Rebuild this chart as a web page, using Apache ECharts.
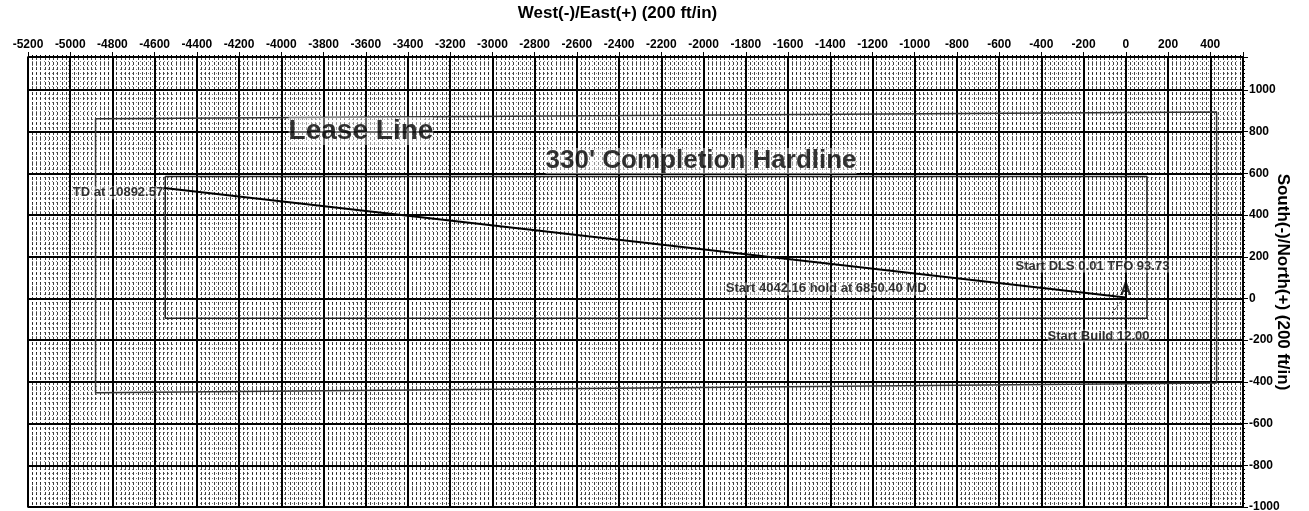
<!DOCTYPE html>
<html>
<head>
<meta charset="utf-8">
<script src="https://cdn.jsdelivr.net/npm/echarts@6/dist/echarts.min.js"></script>
<style>
    html, body { margin: 0; padding: 0; background: #fff; }
    #myChart { width: 1309px; height: 511px; }
</style>
</head>
<body>
<div id="myChart"></div>
<script>
    // plan view, ft. E-W on x, N-S on y
    var xTicks = [-5200, -5000, -4800, -4600, -4400, -4200, -4000, -3800, -3600, -3400, -3200, -3000, -2800,
        -2600, -2400, -2200, -2000, -1800, -1600, -1400, -1200, -1000, -800, -600, -400, -200, 0, 200, 400];
    var yTicks = [-1000, -800, -600, -400, -200, 0, 200, 400, 600, 800, 1000];
    var xEnd = 555;
    var yEnd = 1158;

    // well path (wellhead -> TD)
    var pathEW = [0, -4555];
    var pathNS = [5, 530];

    // lease line (slightly skewed on the plat)
    var leaseEW = [-4880, 430, 430, -4880, -4880];
    var leaseNS = [862, 894, -405, -452, 862];

    // 330' completion hardline
    var hardEW = [-4550, 100, 100, -4550, -4550];
    var hardNS = [585, 585, -95, -95, 585];

    // leader from 'Start Build' label to the wellhead
    var leaderEW = [-65, -18];
    var leaderNS = [-70, -7];

    // annotations: left-anchored, except the hold note which ends at its anchor
    var noteText = ['TD at 10892.57', 'Start DLS 0.01 TFO 93.73', 'Start Build 12.00'];
    var noteEW = [-4990, -525, -373];
    var noteNS = [507, 156, -180];

    var holdText = ['Start 4042.16 hold at 6850.40 MD'];
    var holdEW = [-941];
    var holdNS = [46];

    var bigText = ['Lease Line', "330' Completion Hardline"];
    var bigEW = [-3968, -2751];
    var bigNS = [803, 659];
    var bigSize = [28, 26];

    var wellheadEW = [0];
    var wellheadNS = [40];

    var font = 'Liberation Sans, Arial, sans-serif';

    function pairs(xs, ys) {
        var arr = [];
        xs.forEach(function (x, i) { arr.push([x, ys[i]]); });
        return arr;
    }
    function labelled(xs, ys, names) {
        var arr = [];
        xs.forEach(function (x, i) { arr.push({ name: names[i], value: [x, ys[i]] }); });
        return arr;
    }
    function plain(v) { return String(v); }

    var bigData = labelled(bigEW, bigNS, bigText);
    bigData.forEach(function (d, i) { d.label = { fontSize: bigSize[i] }; });

    // text sits on a lightly washed patch of the grid, like the plotted plat
    var wash = 'rgba(255,255,255,0.55)';

    var option = {
        animation: false,
        backgroundColor: '#fff',
        textStyle: { fontFamily: font, color: '#000' },
        grid: {
            show: true,
            left: 28, right: 66, top: 57, bottom: 4,
            containLabel: false,
            outerBoundsMode: 'none',
            borderColor: '#000',
            borderWidth: 1.5,
            backgroundColor: '#fff'
        },
        xAxis: {
            type: 'value',
            position: 'top',
            min: xTicks[0],
            max: xEnd,
            interval: xTicks[1] - xTicks[0],
            name: 'West(-)/East(+) (200 ft/in)',
            nameLocation: 'middle',
            nameGap: 35,
            nameMoveOverlap: false,
            nameTextStyle: {
                fontFamily: font, fontWeight: 'bold', fontSize: 17, color: '#000',
                padding: [0, 36, 0, 0]
            },
            axisLine: { show: true, onZero: false, lineStyle: { color: '#000', width: 1 } },
            axisTick: { show: true, length: 5, lineStyle: { color: '#000' } },
            minorTick: { show: true, splitNumber: 10, length: 2, lineStyle: { color: '#000' } },
            axisLabel: {
                fontFamily: font, fontWeight: 'bold', fontSize: 12, color: '#000', margin: 6,
                showMaxLabel: false, formatter: plain
            },
            splitLine: { show: true, lineStyle: { color: '#000', width: 2 } },
            minorSplitLine: { show: true, lineStyle: { color: '#000', opacity: 0.75, width: 1, type: [3, 2] } }
        },
        yAxis: {
            type: 'value',
            position: 'right',
            min: yTicks[0],
            max: yEnd,
            interval: yTicks[1] - yTicks[0],
            name: 'South(-)/North(+) (200 ft/in)',
            nameLocation: 'middle',
            nameRotate: -90,
            nameGap: 31,
            nameMoveOverlap: false,
            nameTextStyle: { fontFamily: font, fontWeight: 'bold', fontSize: 17, color: '#000' },
            axisLine: { show: true, onZero: false, lineStyle: { color: '#000', width: 1 } },
            axisTick: { show: true, length: 5, lineStyle: { color: '#000' } },
            minorTick: { show: true, splitNumber: 10, length: 2, lineStyle: { color: '#000' } },
            axisLabel: {
                fontFamily: font, fontWeight: 'bold', fontSize: 12, color: '#000', margin: 6,
                showMaxLabel: false, formatter: plain
            },
            splitLine: { show: true, lineStyle: { color: '#000', width: 2 } },
            minorSplitLine: { show: true, lineStyle: { color: '#000', opacity: 0.5, width: 1, type: [1, 3] } }
        },
        series: [{
            name: 'Lease Line',
            type: 'line',
            data: pairs(leaseEW, leaseNS),
            symbol: 'none',
            lineStyle: { color: '#333', width: 1.5 },
            silent: true
        }, {
            name: 'Hardline',
            type: 'line',
            data: pairs(hardEW, hardNS),
            symbol: 'none',
            lineStyle: { color: '#222', width: 1.5 },
            silent: true
        }, {
            name: 'Plan',
            type: 'line',
            data: pairs(pathEW, pathNS),
            symbol: 'none',
            lineStyle: { color: '#000', width: 2 },
            silent: true
        }, {
            name: 'Leader',
            type: 'line',
            data: pairs(leaderEW, leaderNS),
            symbol: 'none',
            lineStyle: { color: '#000', width: 1, type: [2, 2] },
            silent: true
        }, {
            name: 'Notes',
            type: 'scatter',
            z: 10,
            data: labelled(noteEW, noteNS, noteText),
            symbolSize: 1,
            itemStyle: { color: 'transparent' },
            label: {
                show: true, position: 'right', distance: 0,
                formatter: '{b}',
                fontFamily: font, fontWeight: 'bold', fontSize: 13, color: '#000',
                backgroundColor: wash
            },
            silent: true
        }, {
            name: 'Hold',
            type: 'scatter',
            z: 10,
            data: labelled(holdEW, holdNS, holdText),
            symbolSize: 1,
            itemStyle: { color: 'transparent' },
            label: {
                show: true, position: 'left', distance: 0,
                formatter: '{b}',
                fontFamily: font, fontWeight: 'bold', fontSize: 13, color: '#000',
                backgroundColor: wash
            },
            silent: true
        }, {
            name: 'Titles',
            type: 'scatter',
            z: 10,
            data: bigData,
            symbolSize: 1,
            itemStyle: { color: 'transparent' },
            label: {
                show: true, position: 'right', distance: 0,
                formatter: '{b}',
                fontFamily: font, fontWeight: 900, color: '#000',
                backgroundColor: wash
            },
            silent: true
        }, {
            name: 'Wellhead',
            type: 'scatter',
            z: 10,
            data: labelled(wellheadEW, wellheadNS, ['A']),
            symbolSize: 1,
            itemStyle: { color: 'transparent' },
            label: {
                show: true, position: 'inside',
                formatter: '{b}',
                fontFamily: font, fontWeight: 'bold', fontSize: 16, color: '#000'
            },
            silent: true
        }]
    };

    var myChart = echarts.init(document.getElementById('myChart'));
    myChart.setOption(option);
</script>
</body>
</html>
